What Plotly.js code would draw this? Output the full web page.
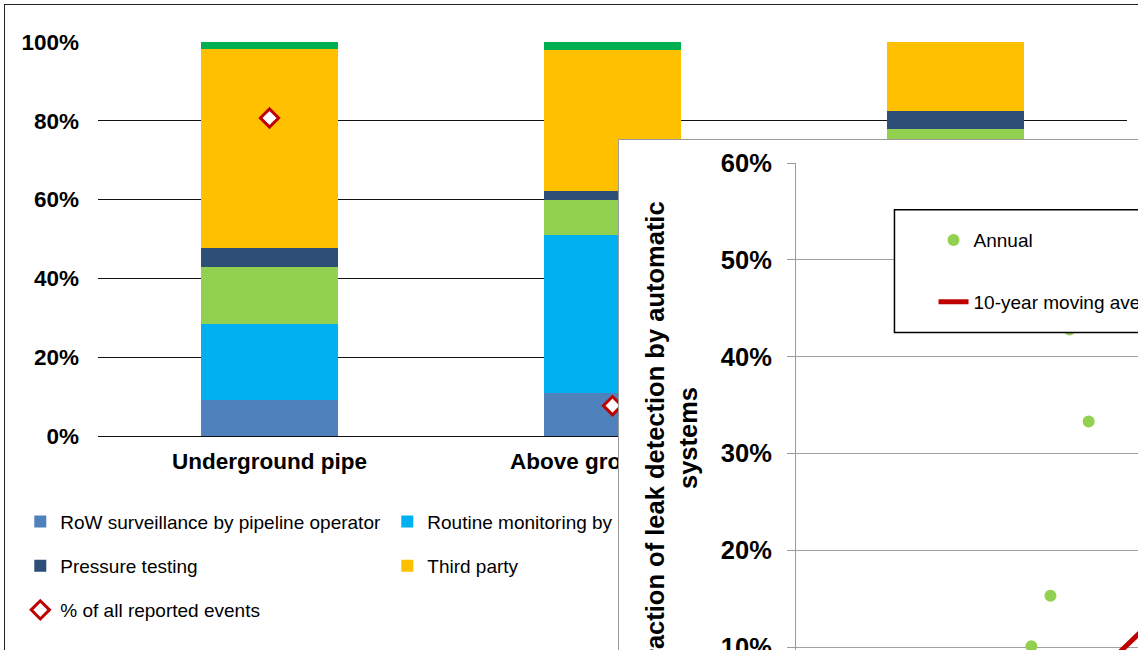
<!DOCTYPE html>
<html>
<head>
<meta charset="utf-8">
<script src="https://cdn.plot.ly/plotly-3.0.1.min.js"></script>
<style>
  html, body { margin: 0; padding: 0; background: #fff; overflow: hidden; }
  body { width: 1138px; height: 650px; position: relative; }
  #detection { position: absolute; left: 4px; top: 4px; border: 1px solid #222; background: #fff; }
  #automatic { position: absolute; left: 618px; top: 139px; border: 1px solid #9a9a9a; background: #fff; z-index: 2; }
</style>
</head>
<body>
<div id="detection"></div>
<div id="automatic"></div>
<script>
// Spill detection method by pipeline component (stacked shares)
const categories = ['Underground pipe', 'Above ground pipe', 'Pumping stations'];
const rowSurveillance    = [0.091, 0.110, 0.200];
const routineMonitoring  = [0.193, 0.399, 0.120];
const automaticDetection = [0.146, 0.091, 0.460];
const pressureTesting    = [0.048, 0.022, 0.044];
const thirdParty         = [0.505, 0.357, 0.176];
const unknownSource      = [0.016, 0.021, 0.000];
const shareOfEvents      = [0.807, 0.077, 0.116];

// Fraction of leaks found by automatic detection systems
const years = [1971, 1972, 1973, 1974, 1975, 1976, 1977, 1978, 1979, 1980,
               1981, 1982, 1983, 1984, 1985, 1986, 1987, 1988, 1989];
const annualShare = [0.00, 0.00, 0.05, 0.00, 0.03, 0.00, 0.06, 0.00, 0.04, 0.00,
                     0.07, 0.02, 0.101, 0.153, 0.428, 0.333, 0.06, 0.04, 0.25];
const maYears = [1980, 1981, 1982, 1983, 1984, 1985, 1986, 1987, 1988, 1989];
const movingAverage = [0.020, 0.025, 0.030, 0.040, 0.052, 0.063, 0.072, 0.083, 0.102, 0.121];

const FONT = 'Liberation Sans, Arial, Helvetica, sans-serif';

function barTrace(name, values, color, legendId) {
  return {
    type: 'bar', name: name, x: categories, y: values,
    marker: { color: color, line: { width: 0 } },
    legend: legendId, legendgroup: name,
    hoverinfo: 'skip'
  };
}

const mainTraces = [
  barTrace('RoW surveillance by pipeline operator', rowSurveillance, '#4F81BD', 'legend'),
  barTrace('Routine monitoring by pipeline operator', routineMonitoring, '#00B0F0', 'legend2'),
  barTrace('Automatic detection system', automaticDetection, '#92D050', 'legend3'),
  barTrace('Pressure testing', pressureTesting, '#2D4E76', 'legend'),
  barTrace('Third party', thirdParty, '#FFC000', 'legend2'),
  barTrace('Unknown', unknownSource, '#00B050', 'legend3'),
  {
    type: 'scatter', mode: 'markers', name: '% of all reported events',
    x: categories, y: shareOfEvents,
    marker: { symbol: 'diamond', size: 14, color: '#FFFFFF', line: { color: '#C00000', width: 3 } },
    legend: 'legend', legendgroup: 'events', hoverinfo: 'skip'
  }
];

const MW = 1300, MH = 700;
const mL = 92.7, mT = 36.7, plotW = 1029, plotH = 394;

function legendAt(xPx, topPx) {
  return {
    x: (xPx - (5 + mL)) / plotW,
    y: 1 - (topPx - (5 + mT)) / plotH,
    xanchor: 'left', yanchor: 'top',
    orientation: 'v', traceorder: 'grouped', tracegroupgap: 16.5,
    bgcolor: 'rgba(0,0,0,0)', borderwidth: 0,
    font: { family: FONT, size: 19, color: '#000' }
  };
}

const mainLayout = {
  width: MW, height: MH,
  margin: { l: mL, t: mT, r: MW - mL - plotW, b: MH - mT - plotH, autoexpand: false },
  paper_bgcolor: '#fff', plot_bgcolor: '#fff',
  barmode: 'stack', bargap: 0.6,
  showlegend: true,
  xaxis: {
    type: 'category', showgrid: false, zeroline: false, showline: false,
    ticks: '', ticklabelstandoff: 9,
    tickfont: { family: FONT, size: 22.5, weight: 700, color: '#000' }
  },
  yaxis: {
    range: [0, 1], dtick: 0.2, tickformat: '.0%',
    showgrid: true, gridcolor: '#111', gridwidth: 1,
    zeroline: true, zerolinecolor: '#111', zerolinewidth: 1,
    showline: false, ticks: '', ticklabelstandoff: 18,
    tickfont: { family: FONT, size: 22.5, weight: 700, color: '#000' }
  },
  legend: legendAt(20, 502.3),
  legend2: legendAt(387, 502.3),
  legend3: legendAt(754, 502.3)
};

Plotly.newPlot('detection', mainTraces, mainLayout, { displayModeBar: false, staticPlot: true });

// Inset: automatic detection share over time
const IL = 177, IT = 23.3, yearPx = 19.1;
const xStart = 1970.67, xSpan = 22;
const IW = xSpan * yearPx, IH = 549.3;
const insetW = IL + IW + 40, insetH = IT + IH + 80;

const insetTraces = [
  {
    type: 'scatter', mode: 'markers', name: 'Annual',
    x: years, y: annualShare,
    marker: { color: '#92D050', size: 12 },
    legendgroup: 'annual', hoverinfo: 'skip'
  },
  {
    type: 'scatter', mode: 'lines', name: '10-year moving average',
    x: maYears, y: movingAverage,
    line: { color: '#C00000', width: 5 },
    legendgroup: 'ma', hoverinfo: 'skip'
  }
];

const insetLayout = {
  width: insetW, height: insetH,
  margin: { l: IL, t: IT, r: 40, b: 80, autoexpand: false },
  paper_bgcolor: '#fff', plot_bgcolor: '#fff',
  showlegend: true,
  xaxis: {
    range: [xStart, xStart + xSpan], showgrid: false, zeroline: false,
    showline: true, linecolor: '#9a9a9a', ticks: '', showticklabels: false
  },
  yaxis: {
    range: [0.032, 0.6], dtick: 0.1, tick0: 0, tickformat: '.0%',
    showgrid: true, gridcolor: '#a0a0a0', gridwidth: 1,
    zeroline: false, showline: true, linecolor: '#9a9a9a', linewidth: 1,
    ticks: 'outside', ticklen: 8, tickcolor: '#9a9a9a', ticklabelstandoff: 10,
    tickfont: { family: FONT, size: 25.5, weight: 700, color: '#000' },
    title: {
      text: 'Fraction of leak detection by automatic<br>systems',
      font: { family: FONT, size: 25.5, weight: 700, color: '#000' },
      standoff: 15
    }
  },
  shapes: [{
    type: 'rect', xref: 'paper', yref: 'paper', layer: 'above',
    x0: (894.5 - 796) / IW, x1: 1.3,
    y0: 1 - (332.7 - 163.3) / IH, y1: 1 - (210 - 163.3) / IH,
    line: { color: '#000', width: 1.5 }, fillcolor: '#fff'
  }],
  legend: {
    x: (933.6 - 796) / IW, y: 1 - (221.4 - 163.3) / IH,
    xanchor: 'left', yanchor: 'top',
    orientation: 'v', traceorder: 'grouped', tracegroupgap: 34,
    bgcolor: 'rgba(0,0,0,0)', borderwidth: 0,
    font: { family: FONT, size: 19, color: '#000' }
  }
};

Plotly.newPlot('automatic', insetTraces, insetLayout, { displayModeBar: false, staticPlot: true });
</script>
</body>
</html>
